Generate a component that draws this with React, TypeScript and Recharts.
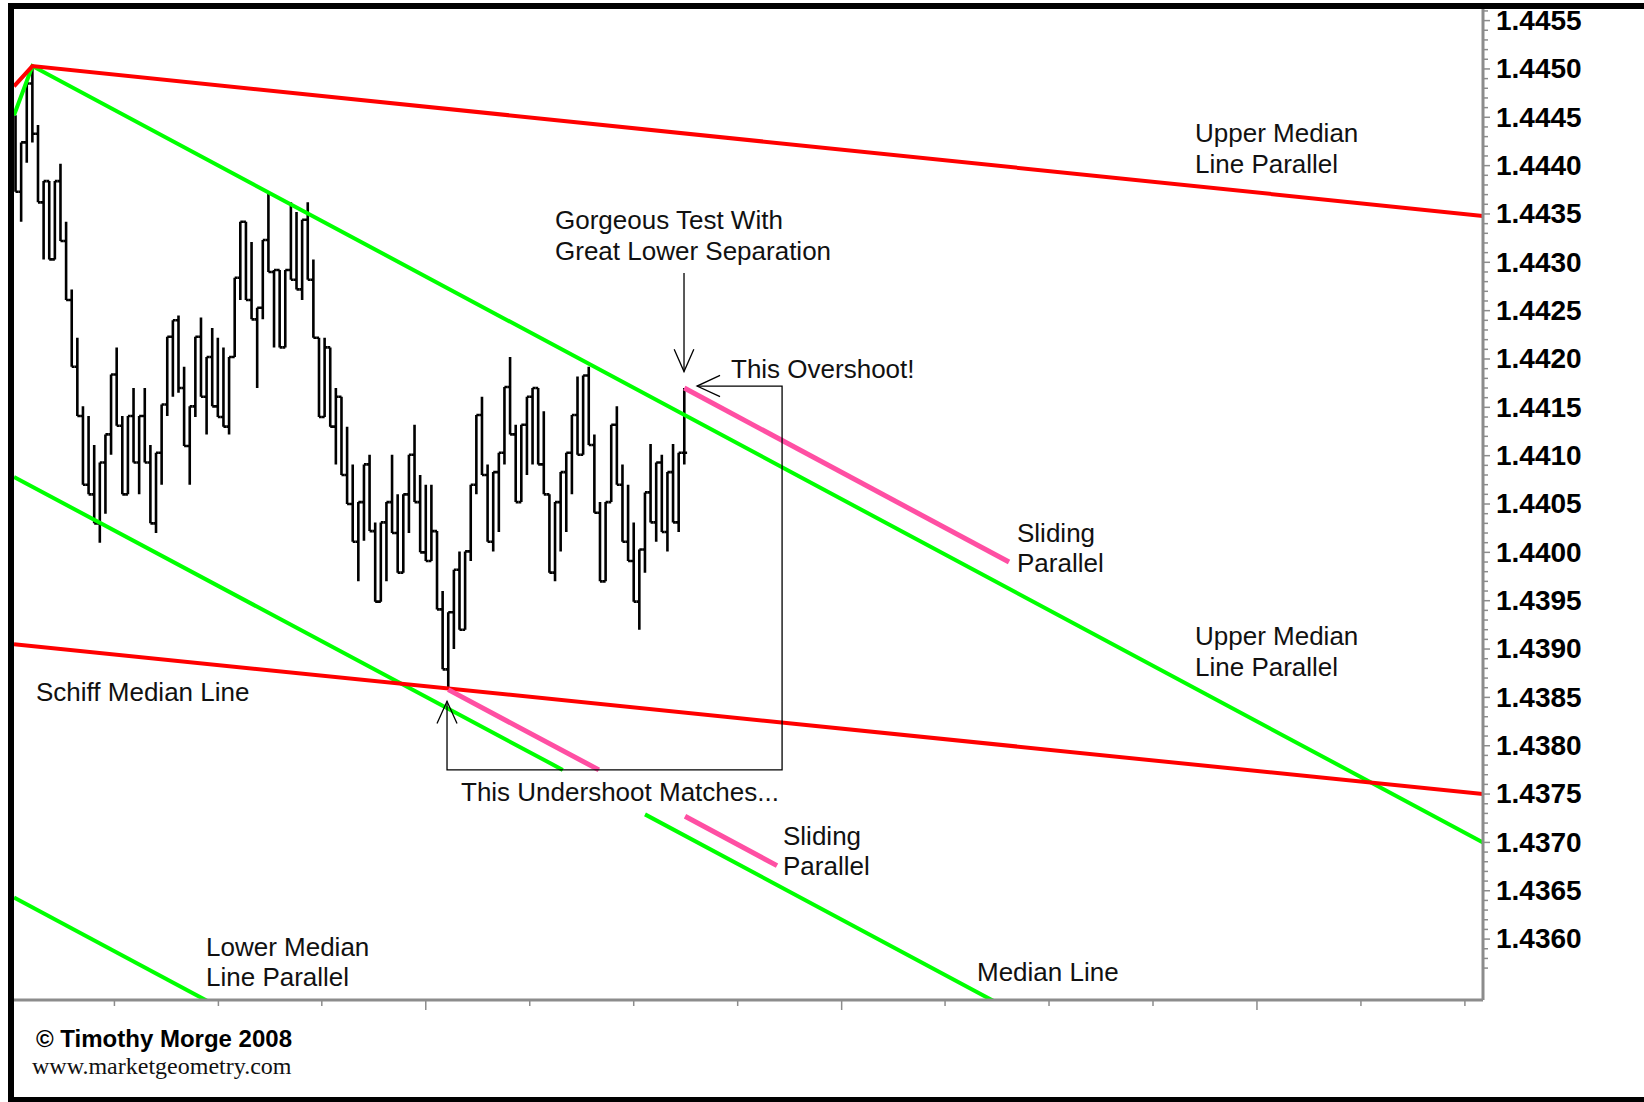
import React from 'react';
import { ComposedChart, Bar, Line, XAxis, YAxis } from 'recharts';

// range bars, left to right (bar index = position on the x axis)
const highs = [
  1.44452, 1.44424, 1.44485, 1.44503, 1.44442, 1.44384, 1.44384, 1.44384, 1.44402, 1.44342,
  1.44272, 1.44222, 1.44151, 1.44141, 1.44111, 1.44093, 1.44122, 1.44184, 1.44212, 1.44141,
  1.44141, 1.4417, 1.44141, 1.4417, 1.44111, 1.44103, 1.44153, 1.44223, 1.4424, 1.44245,
  1.44192, 1.44151, 1.44223, 1.44243, 1.44202, 1.44232, 1.44222, 1.44212, 1.44202, 1.44284,
  1.44342, 1.44342, 1.44321, 1.44253, 1.44323, 1.44372, 1.44292, 1.44292, 1.44292, 1.44362,
  1.44352, 1.44344, 1.44362, 1.44303, 1.44222, 1.44222, 1.44212, 1.4417, 1.44161, 1.4413,
  1.44091, 1.44052, 1.44091, 1.44101, 1.44031, 1.44031, 1.44052, 1.44101, 1.4406, 1.4406,
  1.44101, 1.44132, 1.4408, 1.4407, 1.4407, 1.44022, 1.4396, 1.43938, 1.43982, 1.44001,
  1.44001, 1.4407, 1.44142, 1.44161, 1.44091, 1.44083, 1.44103, 1.44171, 1.44202, 1.44132,
  1.44132, 1.44161, 1.4417, 1.4417, 1.44146, 1.4406, 1.44052, 1.44083, 1.44103, 1.44142,
  1.44182, 1.44183, 1.44192, 1.44122, 1.44052, 1.44052, 1.44132, 1.44151, 1.44091, 1.4407,
  1.44031, 1.44003, 1.44062, 1.44112, 1.44093, 1.44101, 1.44083, 1.44112, 1.44103, 1.4417,
];
const lows = [
  1.44373, 1.44342, 1.44403, 1.44424, 1.44362, 1.44303, 1.44303, 1.44303, 1.44322, 1.44261,
  1.44192, 1.44141, 1.4407, 1.4406, 1.4403, 1.4401, 1.4404, 1.44101, 1.44131, 1.4406,
  1.4406, 1.44093, 1.4406, 1.44093, 1.4403, 1.4402, 1.4407, 1.44141, 1.44161, 1.44165,
  1.4411, 1.4407, 1.4414, 1.44161, 1.44122, 1.44151, 1.4414, 1.4413, 1.44122, 1.44202,
  1.44261, 1.44261, 1.44241, 1.4417, 1.44241, 1.4429, 1.44212, 1.44212, 1.44212, 1.44282,
  1.44272, 1.44261, 1.44282, 1.44222, 1.4414, 1.4414, 1.4413, 1.44091, 1.4408, 1.4405,
  1.44011, 1.4397, 1.44012, 1.44022, 1.43949, 1.43949, 1.4397, 1.4402, 1.43979, 1.43979,
  1.4402, 1.44052, 1.44, 1.43991, 1.43991, 1.43941, 1.43879, 1.43858, 1.439, 1.4392,
  1.4392, 1.43991, 1.4406, 1.4408, 1.44011, 1.44001, 1.44021, 1.44091, 1.44122, 1.44052,
  1.44052, 1.4408, 1.44091, 1.44091, 1.4406, 1.43979, 1.4397, 1.44001, 1.44021, 1.4406,
  1.44101, 1.44101, 1.44111, 1.44041, 1.4397, 1.4397, 1.44052, 1.4407, 1.44011, 1.43991,
  1.43949, 1.4392, 1.43979, 1.44031, 1.44011, 1.44021, 1.44001, 1.44031, 1.44021, 1.44091,
];
const closes = [
  1.44373, 1.44424, 1.44485, 1.44433, 1.44362, 1.44384, 1.44303, 1.44384, 1.44322, 1.44261,
  1.44192, 1.44141, 1.4407, 1.4406, 1.4403, 1.44093, 1.44122, 1.44184, 1.44131, 1.4406,
  1.44141, 1.44093, 1.44141, 1.44093, 1.4403, 1.44103, 1.44153, 1.44223, 1.4424, 1.4417,
  1.4411, 1.44151, 1.44223, 1.44161, 1.44202, 1.44151, 1.4414, 1.4413, 1.44202, 1.44284,
  1.44342, 1.44261, 1.44241, 1.44253, 1.44323, 1.4429, 1.44292, 1.44212, 1.44292, 1.44282,
  1.44272, 1.44344, 1.44282, 1.44222, 1.4414, 1.44212, 1.4413, 1.44161, 1.4408, 1.4405,
  1.44011, 1.44052, 1.44091, 1.44022, 1.43949, 1.44031, 1.44052, 1.4402, 1.43979, 1.4406,
  1.44101, 1.44052, 1.44, 1.43991, 1.44022, 1.43941, 1.43879, 1.43938, 1.43982, 1.4392,
  1.44001, 1.4407, 1.44142, 1.4408, 1.44011, 1.44083, 1.44103, 1.44171, 1.44122, 1.44052,
  1.44132, 1.44161, 1.4417, 1.44091, 1.4406, 1.43979, 1.44052, 1.44083, 1.44103, 1.44142,
  1.44101, 1.44183, 1.44111, 1.44041, 1.4397, 1.44052, 1.44132, 1.4407, 1.44011, 1.43991,
  1.43949, 1.44003, 1.44062, 1.44031, 1.44093, 1.44021, 1.44083, 1.44031, 1.44103, 1.44103,
];

// right axis labels and bottom tick marks (bar index units)
const priceLabels = [
  1.436, 1.4365, 1.437, 1.4375, 1.438, 1.4385, 1.439, 1.4395, 1.44, 1.4405,
  1.441, 1.4415, 1.442, 1.4425, 1.443, 1.4435, 1.444, 1.4445, 1.445, 1.4455,
];
const xTicks = [17.6, 36.1, 54.5, 73.0, 91.5, 110.0, 128.5, 147.0, 165.4, 183.9, 202.4, 220.9, 239.4, 257.9];
const longXTicks = [73.0, 147.0, 220.9];

// drawn lines: [bar index, price]
const upperRed = [[-0.27, 1.44482], [3, 1.44503], [261.12, 1.44348]];
const schiffRed = [[-0.27, 1.43905], [261.12, 1.4375]];
const upperGreen = [[-0.27, 1.44452], [3, 1.44503], [261.12, 1.437]];
const medianGreen = [[-0.27, 1.44078], [97.38, 1.43775], null, [112.01, 1.43729], [261.12, 1.43265]];
const lowerGreen = [[-0.27, 1.43643], [261.12, 1.4283]];
const slidingUpper = [[119, 1.4417], [176.78, 1.4399]];
const slidingLower = [[77, 1.43858], [103.8, 1.43775], null, [119.13, 1.43727], [135.5, 1.43676]];

// annotation box and arrows
const boxPath = [[76.78, 1.43846], [76.78, 1.43775], [136.4, 1.43775], [136.4, 1.44172], [121.27, 1.44172]];
const upArrowHead = [[75.0, 1.43823], [76.78, 1.43846], [78.56, 1.43823]];
const leftArrowHead = [[125.36, 1.44183], [121.27, 1.44172], [125.36, 1.44161]];
const downArrowShaft = [[118.95, 1.44289], [118.95, 1.44187]];
const downArrowHead = [[117.2, 1.4421], [118.95, 1.44187], [120.7, 1.4421]];

const X_DOMAIN = [-0.27, 261.12];
const Y_DOMAIN = [1.43537, 1.44562];

const bars = highs.map((h, i) => ({
  i,
  range: [lows[i], h],
  high: h,
  low: lows[i],
  open: i > 0 ? closes[i - 1] : null,
  close: closes[i],
}));

const toPts = (pts: (number[] | null)[]) =>
  pts.map((p, k) => (p ? { i: p[0], p: p[1] } : { i: (pts[k - 1] as number[])[0] + 0.5, p: null }));

const minorTicks: number[] = [];
for (let k = 14357; k <= 14456; k++) minorTicks.push(k / 10000);

const RangeBar = (props: any) => {
  const { x, y, width, height, payload } = props;
  if (height == null || isNaN(y)) return null;
  const { high, low, open, close } = payload;
  const cx = x + width / 2;
  const yOf = (v: number) => y + ((high - v) / (high - low)) * height;
  const half = 2.81;
  let d = `M${cx},${y} V${y + height}`;
  if (open != null) d += ` M${cx - half},${yOf(open)} H${cx}`;
  d += ` M${cx},${yOf(close)} H${cx + half}`;
  return <path d={d} stroke="#000" strokeWidth={2.6} fill="none" />;
};

const PriceTick = (props: any) => {
  const { x, y, payload } = props;
  const v = payload.value;
  const major = Math.round(v * 10000) % 5 === 0;
  return (
    <g>
      <line x1={x} x2={x + (major ? 7 : 5)} y1={y} y2={y} stroke="#8c8c8c" strokeWidth={1.5} />
      {major && priceLabels.some((l) => Math.abs(l - v) < 1e-7) && (
        <text
          x={x + 13}
          y={y}
          dy="0.33em"
          fontFamily="'Liberation Sans', Arial, sans-serif"
          fontWeight="bold"
          fontSize={28}
          fill="#000"
        >
          {v.toFixed(4)}
        </text>
      )}
    </g>
  );
};

const TimeTick = (props: any) => {
  const { x, y, payload } = props;
  const long = longXTicks.includes(payload.value);
  return <line x1={x} x2={x} y1={y + 1} y2={y + (long ? 10 : 6)} stroke="#8c8c8c" strokeWidth={1.5} />;
};

const trend = (key: string, pts: (number[] | null)[], color: string, width: number) => (
  <Line
    key={key}
    data={toPts(pts)}
    dataKey="p"
    type="linear"
    stroke={color}
    strokeWidth={width}
    dot={false}
    activeDot={false}
    connectNulls={false}
    isAnimationActive={false}
    legendType="none"
  />
);

const notes = [
  { text: 'Gorgeous Test With', left: 555, top: 220 },
  { text: 'Great Lower Separation', left: 555, top: 251 },
  { text: 'This Overshoot!', left: 731, top: 369 },
  { text: 'Upper Median', left: 1195, top: 133 },
  { text: 'Line Parallel', left: 1195, top: 164 },
  { text: 'Sliding', left: 1017, top: 533 },
  { text: 'Parallel', left: 1017, top: 563 },
  { text: 'Upper Median', left: 1195, top: 636 },
  { text: 'Line Parallel', left: 1195, top: 667 },
  { text: 'Schiff Median Line', left: 36, top: 692 },
  { text: 'This Undershoot Matches...', left: 461, top: 792 },
  { text: 'Sliding', left: 783, top: 836 },
  { text: 'Parallel', left: 783, top: 866 },
  { text: 'Lower Median', left: 206, top: 947 },
  { text: 'Line Parallel', left: 206, top: 977 },
  { text: 'Median Line', left: 977, top: 972 },
];

export default function App() {
  return (
    <div
      style={{
        position: 'absolute',
        left: 0,
        top: 0,
        width: 1644,
        height: 1102,
        overflow: 'hidden',
        background: '#fff',
      }}
    >
      <ComposedChart
        width={1644}
        height={1102}
        data={bars}
        margin={{ top: 9, right: 0, bottom: 0, left: 14 }}
        barCategoryGap={0}
        barGap={0}
      >
        <XAxis
          type="number"
          dataKey="i"
          domain={X_DOMAIN}
          allowDataOverflow
          ticks={xTicks}
          interval={0}
          height={102}
          tickSize={0}
          tickMargin={0}
          tickLine={false}
          tick={<TimeTick />}
          axisLine={{ stroke: '#8c8c8c', strokeWidth: 3 }}
        />
        <YAxis
          type="number"
          orientation="right"
          domain={Y_DOMAIN}
          allowDataOverflow
          ticks={minorTicks}
          interval={0}
          width={161}
          tickSize={0}
          tickMargin={0}
          tickLine={false}
          tick={<PriceTick />}
          axisLine={{ stroke: '#8c8c8c', strokeWidth: 3 }}
        />
        {trend('lowerGreen', lowerGreen, '#00ff00', 4)}
        {trend('medianGreen', medianGreen, '#00ff00', 4)}
        {trend('upperGreen', upperGreen, '#00ff00', 4)}
        {trend('schiffRed', schiffRed, '#ff0000', 4)}
        {trend('upperRed', upperRed, '#ff0000', 4)}
        {trend('slidingUpper', slidingUpper, '#ff4fa3', 5)}
        {trend('slidingLower', slidingLower, '#ff4fa3', 5)}
        <Bar dataKey="range" shape={<RangeBar />} isAnimationActive={false} legendType="none" />
        {trend('boxPath', boxPath, '#000', 1.3)}
        {trend('upArrowHead', upArrowHead, '#000', 1.3)}
        {trend('leftArrowHead', leftArrowHead, '#000', 1.3)}
        {trend('downArrowShaft', downArrowShaft, '#000', 1.3)}
        {trend('downArrowHead', downArrowHead, '#000', 1.3)}
      </ComposedChart>

      {notes.map((n, k) => (
        <div
          key={k}
          style={{
            position: 'absolute',
            left: n.left,
            top: n.top,
            transform: 'translateY(-50%)',
            fontFamily: "'Liberation Sans', Arial, sans-serif",
            fontSize: 26,
            lineHeight: 1,
            color: '#111',
            whiteSpace: 'nowrap',
          }}
        >
          {n.text}
        </div>
      ))}

      <div
        style={{
          position: 'absolute',
          left: 36,
          top: 1039,
          transform: 'translateY(-50%)',
          fontFamily: "'Liberation Sans', Arial, sans-serif",
          fontWeight: 'bold',
          fontSize: 24,
          lineHeight: 1,
          color: '#000',
          whiteSpace: 'nowrap',
        }}
      >
        © Timothy Morge 2008
      </div>
      <div
        style={{
          position: 'absolute',
          left: 32,
          top: 1066,
          transform: 'translateY(-50%)',
          fontFamily: "'Liberation Serif', 'Times New Roman', serif",
          fontSize: 24,
          lineHeight: 1,
          color: '#111',
          whiteSpace: 'nowrap',
        }}
      >
        www.marketgeometry.com
      </div>

      <div
        style={{
          position: 'absolute',
          left: 8,
          top: 3,
          width: 1700,
          height: 1100,
          boxSizing: 'border-box',
          borderTop: '6px solid #000',
          borderLeft: '6px solid #000',
          borderBottom: '6px solid #000',
          pointerEvents: 'none',
        }}
      />
    </div>
  );
}
